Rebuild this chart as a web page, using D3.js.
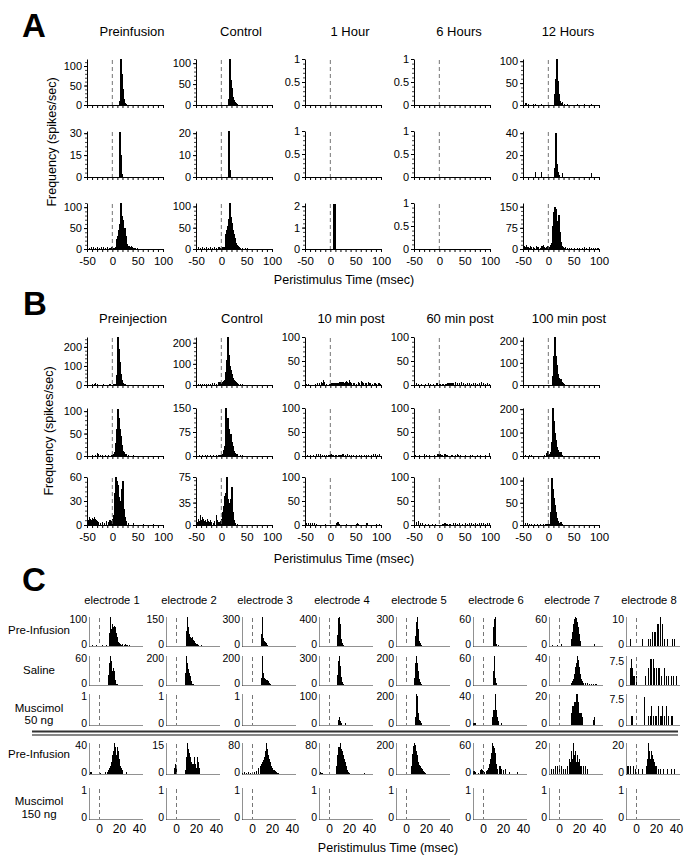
<!DOCTYPE html>
<html><head><meta charset="utf-8">
<script src="https://cdn.jsdelivr.net/npm/d3@7"></script>
<style>
body{margin:0;background:#fff}
svg{display:block}
text{font-family:"Liberation Sans",Arial,Helvetica,sans-serif;fill:#000}
</style>
</head><body>
<svg id="c" width="693" height="861"></svg>
<script>
// ---------------- DATA ----------------
const aTitles = ["Preinfusion", "Control", "1 Hour", "6 Hours", "12 Hours"];
const bTitles = ["Preinjection", "Control", "10 min post", "60 min post", "100 min post"];
const cTitles = ["electrode 1","electrode 2","electrode 3","electrode 4","electrode 5","electrode 6","electrode 7","electrode 8"];
const cRowLabels = [["Pre-Infusion"],["Saline"],["Muscimol","50 ng"],["Pre-Infusion"],["Muscimol","150 ng"]];
const abXTicks = [-50, 0, 50, 100];
const cXTicks = [0, 20, 40];
const yAxisTitle = "Frequency (spikes/sec)";
const xAxisTitle = "Peristimulus Time (msec)";

const aYTicks = [
  [[0,50,100],[0,50,100],[0,0.5,1],[0,0.5,1],[0,50,100]],
  [[0,15,30],[0,10,20],[0,0.5,1],[0,0.5,1],[0,20,40]],
  [[0,50,100],[0,50,100],[0,1,2],[0,0.5,1],[0,75,150]]
];
const aYMax = [[118,110,1,1,105],[31.5,21,1,1,42],[110,108,2.15,1,163]];

// histogram bins: [bin start (ms), spikes/sec], 2 ms bins
const aHist = [
  [
    [[14,10],[16,118],[18,80],[20,40],[22,15],[24,6],[26,3],[28,1]],
    [[14,15],[16,110],[18,60],[20,40],[22,18],[24,12],[26,8],[28,4],[30,2]],
    [],
    [],
    [[-46,5],[-44,4],[-40,2],[-30,2],[-26,3],[-14,2],[-6,1],[12,25],[14,60],[16,105],[18,55],[20,25],[22,10],[24,4],[26,6],[30,3],[36,2],[46,1],[56,2],[70,2],[84,2]]
  ],
  [
    [[14,31],[16,15],[18,2]],
    [[14,21],[16,3]],
    [],
    [],
    [[-26,5],[-14,5],[12,8],[14,40],[16,12],[18,5],[20,2],[26,4],[84,4]]
  ],
  [
    [[-50,4],[-46,3],[-42,4],[-38,5],[-34,3],[-30,4],[-26,3],[-22,4],[-18,5],[-14,3],[-10,4],[-6,3],[-2,4],[2,3],[6,5],[8,25],[10,30],[12,45],[14,60],[16,110],[18,80],[20,70],[22,48],[24,50],[26,30],[28,12],[30,8],[32,6],[34,5],[36,6],[38,4],[40,3],[42,3],[44,2],[48,2],[52,1],[56,1],[60,1]],
    [[-50,3],[-46,4],[-42,3],[-38,5],[-34,3],[-30,4],[-26,3],[-22,4],[-18,3],[-14,4],[-10,3],[-6,4],[-2,3],[2,4],[6,5],[8,35],[10,45],[12,55],[14,70],[16,108],[18,75],[20,60],[22,45],[24,35],[26,25],[28,15],[30,10],[32,6],[34,5],[36,3],[40,3],[46,2],[50,2],[56,1]],
    [[6,2.1],[8,2.1]],
    [],
    [[-50,8],[-48,10],[-46,8],[-44,14],[-42,6],[-40,8],[-38,5],[-36,10],[-34,6],[-30,8],[-28,5],[-24,10],[-22,6],[-20,8],[-16,5],[-14,12],[-12,10],[-10,14],[-8,8],[-6,5],[-4,8],[-2,10],[2,8],[4,15],[6,20],[8,80],[10,130],[12,150],[14,140],[16,100],[18,90],[20,120],[22,60],[24,25],[26,12],[28,8],[30,5],[32,8],[36,4],[40,5],[44,4],[50,3],[56,4],[60,3],[66,5],[70,8],[74,4],[80,6],[84,4],[88,5],[92,3],[96,4],[98,3]]
  ]
];

const bYTicks = [
  [[0,100,200],[0,100,200],[0,50,100],[0,50,100],[0,100,200]],
  [[0,50,100],[0,75,150],[0,50,100],[0,50,100],[0,100,200]],
  [[0,30,60],[0,35,75],[0,50,100],[0,50,100],[0,50,100]]
];
const bYMax = [[252,227,100,100,217],[107,150,100,100,205],[60,75,100,100,108]];

const bHist = [
  [
    [[-50,3],[-46,2],[-40,4],[-36,3],[-34,10],[-30,3],[-24,2],[-18,3],[-12,2],[-6,3],[-2,2],[2,3],[6,4],[8,50],[10,250],[12,190],[14,120],[16,60],[18,25],[20,12],[22,5],[24,3],[30,2],[40,2],[50,1],[60,2],[70,1],[80,2],[90,1]],
    [[-50,4],[-46,3],[-42,5],[-38,4],[-34,3],[-30,6],[-26,4],[-22,5],[-18,8],[-14,10],[-10,6],[-6,12],[-4,15],[-2,10],[0,8],[2,15],[4,18],[6,22],[8,60],[10,120],[12,225],[14,140],[16,90],[18,70],[20,50],[22,35],[24,25],[26,20],[28,12],[30,10],[32,5],[36,4],[40,3],[50,2],[60,2],[70,1]],
    [[-48,3],[-44,2],[-30,3],[-26,4],[-22,5],[-18,6],[-16,4],[-14,10],[-12,7],[-8,3],[-2,3],[2,4],[6,5],[8,3],[10,4],[14,5],[18,6],[20,5],[22,7],[24,6],[26,5],[28,6],[30,8],[32,6],[34,5],[36,10],[38,6],[40,5],[44,4],[46,5],[50,3],[54,6],[56,4],[60,8],[62,6],[64,5],[68,4],[70,5],[74,6],[76,4],[78,5],[82,3],[86,5],[88,4],[90,3],[94,5],[96,4],[98,3]],
    [[-50,3],[-46,4],[-42,3],[-36,2],[-28,3],[-22,4],[-18,3],[-12,2],[-6,4],[0,2],[6,3],[12,2],[16,4],[20,5],[24,4],[26,5],[30,6],[34,4],[38,5],[42,6],[46,4],[50,3],[54,5],[58,4],[62,3],[66,4],[70,5],[74,3],[78,4],[82,6],[86,4],[90,3],[94,4],[98,3]],
    [[-50,2],[-44,1],[-40,2],[-30,1],[-20,2],[-10,1],[-4,2],[0,1],[8,40],[10,130],[12,215],[14,130],[16,90],[18,50],[20,30],[22,20],[24,25],[26,12],[28,8],[30,4],[40,2],[60,1],[80,1]]
  ],
  [
    [[-50,2],[-44,1],[-40,2],[-34,2],[-30,6],[-28,4],[-24,3],[-20,2],[-14,3],[-8,2],[-2,3],[2,4],[4,10],[6,30],[8,60],[10,105],[12,85],[14,60],[16,45],[18,25],[20,12],[22,8],[24,5],[26,5],[30,2],[40,2],[50,1],[70,1],[90,1]],
    [[-50,2],[-44,3],[-38,2],[-32,4],[-28,3],[-22,2],[-16,3],[-10,2],[-6,4],[-2,3],[2,5],[4,20],[6,30],[8,150],[10,110],[12,120],[14,85],[16,60],[18,70],[20,45],[22,30],[24,15],[26,8],[28,6],[30,5],[36,2],[40,2],[50,1]],
    [[-50,4],[-46,3],[-40,3],[-34,2],[-28,4],[-24,5],[-20,4],[-16,3],[-12,2],[-8,3],[-4,2],[0,4],[4,2],[10,3],[16,2],[20,3],[24,4],[28,3],[32,4],[36,3],[40,3],[44,2],[50,3],[56,2],[60,3],[66,3],[70,2],[74,3],[80,3],[84,4],[88,5],[92,3],[96,4]],
    [[-48,2],[-40,2],[-30,5],[-26,3],[-20,2],[-10,3],[-4,4],[0,5],[4,3],[10,4],[14,2],[24,2],[30,3],[34,4],[36,3],[40,2],[50,2],[60,3],[64,2],[74,2],[80,2],[90,3],[98,6]],
    [[-50,2],[-46,3],[-42,2],[-38,4],[-34,3],[-30,2],[-24,2],[-16,2],[-8,3],[-4,12],[-2,20],[0,8],[2,5],[4,15],[6,60],[8,205],[10,150],[12,100],[14,70],[16,40],[18,25],[20,15],[22,10],[24,18],[26,6],[30,2],[40,1],[50,2],[70,1],[90,1]]
  ],
  [
    [[-50,8],[-48,6],[-46,10],[-44,8],[-42,6],[-40,9],[-38,7],[-36,10],[-34,8],[-32,6],[-30,5],[-28,4],[-24,3],[-20,4],[-16,3],[-12,5],[-8,4],[-6,6],[-4,3],[-2,5],[0,8],[2,12],[4,40],[6,60],[8,55],[10,50],[12,35],[14,30],[16,25],[18,45],[20,55],[22,20],[24,10],[26,5],[30,3],[40,2],[60,1],[80,1]],
    [[-50,8],[-48,5],[-46,10],[-44,6],[-42,15],[-40,8],[-38,12],[-36,10],[-34,6],[-32,8],[-30,5],[-28,10],[-26,6],[-24,4],[-22,8],[-20,5],[-16,3],[-14,6],[-10,15],[-8,8],[-6,4],[-2,6],[0,10],[2,20],[4,30],[6,45],[8,50],[10,75],[12,40],[14,35],[16,35],[18,40],[20,60],[22,20],[24,8],[26,3],[30,2]],
    [[-48,4],[-44,5],[-40,4],[-36,5],[-32,4],[-28,3],[-10,2],[12,4],[14,6],[16,3],[30,2],[50,3],[52,5],[54,3],[70,4],[72,5],[90,3],[96,3]],
    [[-50,4],[-46,6],[-42,8],[-38,5],[-34,4],[-28,3],[-22,2],[-14,3],[-8,2],[6,3],[10,4],[14,3],[20,3],[26,4],[30,5],[34,3],[38,4],[44,3],[50,4],[54,3],[58,4],[62,5],[66,3],[70,4],[74,3],[78,4],[82,5],[86,4],[90,3],[94,5],[98,4]],
    [[-50,3],[-46,5],[-42,4],[-38,3],[-34,2],[-28,2],[-22,3],[-16,2],[-10,2],[-6,3],[-2,2],[2,3],[4,30],[6,105],[8,80],[10,60],[12,45],[14,30],[16,15],[18,8],[20,5],[24,6],[26,2],[40,1],[60,1]]
  ]
];

// Panel C: y-axis label (max) and axis top, 1 ms bins
const cYLabel = [
  [100,150,300,400,300,60,60,10],
  [60,200,200,300,200,60,40,7.5],
  [1,1,1,100,200,40,20,7.5],
  [40,15,80,80,200,60,20,20],
  [1,1,1,1,1,1,1,1]
];
const cYTop = [
  [100,150,300,400,300,60,60,10],
  [60,200,200,300,200,60,40,8.3],
  [1,1,1,100,200,40,20,8.3],
  [40,15,80,80,200,60,20,20],
  [1,1,1,1,1,1,1,1]
];
const cHist = [
  [
    [[-7,2],[-3,3],[3,2],[7,3],[10,45],[11,100],[12,60],[13,75],[14,65],[15,70],[16,65],[17,45],[18,30],[19,15],[20,10],[21,8],[22,5],[23,6],[25,5],[26,8],[27,5],[28,4],[30,3]],
    [[10,80],[11,150],[12,100],[13,60],[14,45],[15,40],[16,45],[17,30],[18,25],[19,15],[20,10],[21,8],[22,5],[25,3],[30,2]],
    [[9,120],[10,300],[11,80],[12,50],[13,40],[14,30],[15,15],[16,5]],
    [[8,150],[9,380],[10,400],[11,300],[12,100],[13,40],[14,10]],
    [[9,100],[10,250],[11,300],[12,180],[13,50],[14,30],[15,10]],
    [[10,40],[11,55],[12,60],[13,5],[15,3]],
    [[-7,3],[-2,2],[2,4],[12,15],[13,30],[14,45],[15,55],[16,60],[17,58],[18,50],[19,40],[20,25],[21,10],[35,5]],
    [[-6,2.5],[6,2.5],[12,2.5],[14,2.5],[16,5],[18,5],[19,5],[21,7.5],[22,7.5],[24,10],[26,7.5],[28,2.5],[31,2.5],[36,2.5],[38,2.5]]
  ],
  [
    [[9,20],[10,45],[11,60],[12,50],[13,30],[14,35],[15,30],[16,10],[17,3],[18,3]],
    [[9,80],[10,200],[11,150],[12,110],[13,80],[14,60],[15,30],[16,10],[17,5]],
    [[9,50],[10,200],[11,80],[12,45],[13,40],[14,35],[15,35],[16,30],[17,15],[18,5]],
    [[8,100],[9,250],[10,300],[11,200],[12,80],[13,30],[14,10],[15,5]],
    [[8,50],[9,150],[10,200],[11,150],[12,100],[13,40],[14,20],[15,5]],
    [[10,30],[11,60],[12,15],[13,5]],
    [[12,3],[13,5],[14,8],[15,15],[16,25],[17,30],[18,40],[19,35],[20,25],[21,15],[22,8],[23,5],[24,3],[26,3],[28,3],[30,2],[32,2],[34,2],[36,2],[37,2]],
    [[-6,5],[-5,7.5],[-4,5],[-3,2.5],[-2,2.5],[0,2.5],[9,2.5],[12,5],[14,7.5],[15,7.5],[17,7.5],[18,5],[20,5],[22,5],[23,5],[25,2.5],[28,5],[30,2.5],[32,2.5],[35,2.5],[37,2.5],[40,2.5]]
  ],
  [
    [],
    [],
    [],
    [[9,15],[10,25],[11,12],[12,5],[16,6]],
    [[9,50],[10,200],[11,190],[12,80],[13,30],[14,25],[15,15]],
    [[-10,2],[-9,3],[-8,2],[9,10],[10,20],[11,20],[12,40],[13,20],[14,10],[15,5],[18,3]],
    [[12,8],[13,12],[14,12],[15,15],[16,15],[17,20],[18,20],[19,15],[20,8],[21,8],[22,8],[23,5],[34,3],[35,5]],
    [[-5,2.5],[-4,2.5],[8,7.5],[12,2.5],[14,2.5],[15,5],[17,2.5],[19,2.5],[20,2.5],[22,5],[24,2.5],[25,2.5],[26,5],[28,2.5],[30,5],[32,2.5],[35,2.5],[36,2.5]]
  ],
  [
    [[-9,3],[-8,2],[1,1],[6,2],[8,3],[9,5],[10,8],[11,10],[12,15],[13,25],[14,30],[15,40],[16,35],[17,25],[18,35],[19,30],[20,20],[21,10],[22,8],[23,5],[27,2]],
    [[-2,3],[-1,5],[0,3],[9,2],[10,8],[11,15],[12,12],[13,10],[14,8],[15,6],[16,5],[17,5],[18,8],[19,5],[20,3],[21,8],[22,6],[23,3]],
    [[-10,3],[-8,5],[-6,3],[-4,5],[-2,3],[0,3],[2,5],[4,8],[6,15],[8,20],[9,25],[10,30],[11,35],[12,45],[13,60],[14,80],[15,65],[16,50],[17,40],[18,30],[19,20],[20,15],[21,10],[22,10],[23,8],[24,5],[25,3],[26,3]],
    [[-9,5],[-8,3],[-7,3],[7,20],[8,50],[9,70],[10,70],[11,80],[12,65],[13,60],[14,50],[15,40],[16,30],[17,20],[18,10],[19,5],[20,3],[35,2]],
    [[5,50],[6,130],[7,180],[8,200],[9,190],[10,150],[11,120],[12,80],[13,60],[14,50],[15,40],[16,30],[17,20],[18,10],[19,5]],
    [[-10,5],[-9,5],[-8,3],[-5,2],[-3,8],[-2,10],[-1,8],[0,5],[1,3],[3,5],[4,8],[5,12],[6,20],[7,30],[8,40],[9,60],[10,55],[11,50],[12,40],[13,20],[14,10],[16,15],[17,15],[18,10],[20,8],[22,10],[26,3],[34,3]],
    [[-8,3],[-6,3],[-4,5],[-2,5],[0,5],[2,5],[4,3],[6,3],[8,5],[10,10],[11,8],[12,15],[13,10],[14,20],[15,12],[16,15],[17,8],[18,12],[19,8],[20,10],[21,5],[22,5],[24,5],[26,5],[28,3]],
    [[-9,5],[-8,5],[-6,5],[-3,5],[-1,3],[2,3],[6,3],[10,5],[11,10],[12,20],[13,15],[14,10],[15,15],[16,12],[17,10],[18,8],[19,5],[20,5],[22,3],[24,3],[27,3],[31,3],[35,3],[38,3]]
  ],
  [[],[],[],[],[],[],[],[]]
];

// ---------------- DRAWING ----------------
const svg = d3.select("#c");
svg.append("rect").attr("width",693).attr("height",861).attr("fill","#fff");
const FONT = '"Liberation Sans", Arial, Helvetica, sans-serif';

function styleAxis(sel, fs) {
  sel.attr("font-family", FONT).attr("font-size", fs);
  sel.selectAll("text").attr("fill", "#000");
  sel.selectAll("line").attr("stroke", "#000");
  sel.selectAll("path.domain").attr("stroke", "#000");
}

function drawAB(o) {
  const g = svg.append("g");
  const x = d3.scaleLinear().domain([-50, 100]).range([o.x0, o.x0 + o.w]);
  const y = d3.scaleLinear().domain([0, o.yMax]).range([o.top + o.h, o.top]);
  const cl = v => Math.min(v, o.yMax);
  g.append("g").attr("shape-rendering", "crispEdges").selectAll("rect").data(o.data).join("rect")
    .attr("x", d => x(d[0]))
    .attr("width", d => x(d[0] + 2) - x(d[0]) + 0.2)
    .attr("y", d => y(cl(d[1])))
    .attr("height", d => y(0) - y(cl(d[1])))
    .attr("fill", "#000");
  g.append("line").attr("x1", x(0)).attr("x2", x(0)).attr("y1", o.top + 1).attr("y2", y(0))
    .attr("stroke", "#666").attr("stroke-width", 0.9).attr("stroke-dasharray", "4,3");
  const xa = g.append("g").attr("transform", `translate(0,${y(0)})`)
    .call(d3.axisBottom(x).tickValues(d3.range(-50, 101, 10)).tickSize(3).tickSizeOuter(0).tickPadding(5)
      .tickFormat(d => (o.showX && abXTicks.includes(d)) ? String(d) : ""));
  styleAxis(xa, 11.5);
  const step = o.yTicks[1] - o.yTicks[0];
  const minor = d3.range(0, o.yMax + 1e-9, step / 5);
  const ym = g.append("g").attr("transform", `translate(${o.x0},0)`)
    .call(d3.axisLeft(y).tickValues(minor).tickSize(2).tickSizeOuter(0).tickFormat(""));
  ym.select("path.domain").remove();
  ym.selectAll("line").attr("stroke", "#444");
  const ya = g.append("g").attr("transform", `translate(${o.x0},0)`)
    .call(d3.axisLeft(y).tickValues(o.yTicks).tickSize(3).tickSizeOuter(0).tickPadding(2).tickFormat(d => String(d)));
  styleAxis(ya, 11);
}

function drawC(o) {
  const g = svg.append("g");
  const x = d3.scaleLinear().domain([-10, 44]).range([o.x0, o.x0 + 54]);
  const y = d3.scaleLinear().domain([0, o.yTop]).range([o.top + o.h, o.top]);
  const cl = v => Math.min(v, o.yTop);
  g.append("g").attr("shape-rendering", "crispEdges").selectAll("rect").data(o.data).join("rect")
    .attr("x", d => x(d[0]))
    .attr("width", d => x(d[0] + 1) - x(d[0]))
    .attr("y", d => y(cl(d[1])))
    .attr("height", d => y(0) - y(cl(d[1])))
    .attr("fill", "#000");
  g.append("line").attr("x1", x(0) + 0.5).attr("x2", x(0) + 0.5).attr("y1", o.top + 1).attr("y2", y(0))
    .attr("stroke", "#666").attr("stroke-width", 0.9).attr("stroke-dasharray", "4,3");
  const xa = g.append("g").attr("transform", `translate(0,${y(0)})`)
    .call(d3.axisBottom(x).tickValues(o.showX ? cXTicks : []).tickSize(0).tickSizeOuter(0).tickPadding(5)
      .tickFormat(d => String(d)));
  styleAxis(xa, 12);
  xa.select("path.domain").attr("stroke", "#222").attr("stroke-dasharray", "1,1");
  const ya = g.append("g").attr("transform", `translate(${o.x0},0)`)
    .call(d3.axisLeft(y).tickValues([0, o.yLabel]).tickSize(0).tickSizeOuter(0).tickPadding(2).tickFormat(d => String(d)));
  styleAxis(ya, 10.5);
  ya.selectAll(".tick text").attr("y", d => d === 0 ? -2 : 2);
  ya.select("path.domain").attr("stroke", "#222").attr("stroke-dasharray", "1,1");
}

function letter(t, x, y) {
  svg.append("text").attr("x", x).attr("y", y).attr("font-size", 33).attr("font-weight", "bold").text(t);
}
function txt(t, x, y, fs, anchor, rot) {
  const e = svg.append("text").attr("font-size", fs).attr("text-anchor", anchor || "middle").text(t);
  if (rot) e.attr("transform", `translate(${x},${y}) rotate(-90)`);
  else e.attr("x", x).attr("y", y);
  return e;
}

// ---- Panel A ----
letter("A", 22, 37);
const abColX = i => 87 + i * 109;
aTitles.forEach((t, i) => txt(t, abColX(i) + 45, 36, 13));
const aTops = [59, 131, 203];
aHist.forEach((row, r) => row.forEach((data, c) => drawAB({
  x0: abColX(c), w: 76, top: aTops[r], h: 46, yMax: aYMax[r][c], yTicks: aYTicks[r][c], data, showX: r === 2
})));
txt(yAxisTitle, 56, 142, 12.5, "middle", true);
txt(xAxisTitle, 344, 284, 12.5);

// ---- Panel B ----
letter("B", 23, 315);
bTitles.forEach((t, i) => txt(t, abColX(i) + 46, 323, 13));
const bTops = [337, 408, 477];
bHist.forEach((row, r) => row.forEach((data, c) => drawAB({
  x0: abColX(c), w: 76, top: bTops[r], h: 48, yMax: bYMax[r][c], yTicks: bYTicks[r][c], data, showX: r === 2
})));
txt(yAxisTitle, 53, 431, 12.5, "middle", true);
txt(xAxisTitle, 344, 563, 12.5);

// ---- Panel C ----
letter("C", 22, 591);
const cColX = i => Math.round(89 + i * 76.7);
cTitles.forEach((t, i) => txt(t, cColX(i) + 23, 604, 11.2));
const cTops = [617, 656, 694, 743, 788];
const cHs = [29, 29, 31, 31, 31];
cHist.forEach((row, r) => row.forEach((data, c) => drawC({
  x0: cColX(c), top: cTops[r], h: cHs[r], yTop: cYTop[r][c], yLabel: cYLabel[r][c], data, showX: r === 4
})));
const rowLabelY = [[634], [674], [712, 724], [758], [805, 818]];
cRowLabels.forEach((lines, r) => lines.forEach((l, k) => txt(l, 39, rowLabelY[r][k], 11.5)));
// double separator
svg.append("line").attr("x1", 32).attr("x2", 678).attr("y1", 731.5).attr("y2", 731.5).attr("stroke", "#333").attr("stroke-width", 2);
svg.append("line").attr("x1", 32).attr("x2", 678).attr("y1", 735).attr("y2", 735).attr("stroke", "#111").attr("stroke-width", 1.2);
txt(xAxisTitle, 388, 852, 12.5);
</script>
</body></html>
